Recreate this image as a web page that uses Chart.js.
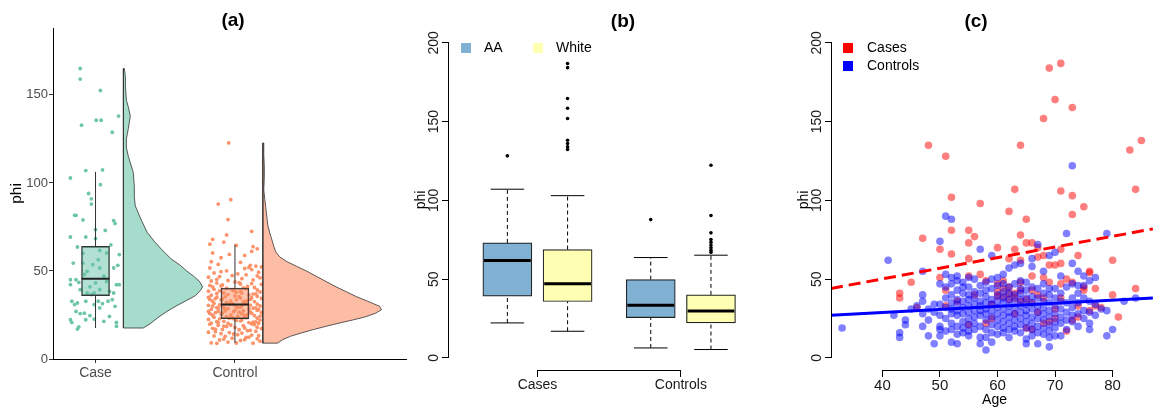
<!DOCTYPE html>
<html>
<head>
<meta charset="utf-8">
<script src="https://cdn.jsdelivr.net/npm/chart.js@4.4.1/dist/chart.umd.min.js"></script>
<style>
  body { margin: 0; background: #fff; }
  #wrap { position: relative; width: 1162px; height: 416px; overflow: hidden; }
  .panel { position: absolute; top: 0; height: 416px; background: #fff; }
  canvas { display: block; }
</style>
</head>
<body>
<div id="wrap">
  <div class="panel" style="left:0;width:417px;z-index:1"><canvas id="chartA" width="417" height="416"></canvas></div>
  <div class="panel" style="left:407px;width:395px;z-index:2"><canvas id="chartB" width="395" height="416"></canvas></div>
  <div class="panel" style="left:790px;width:372px;z-index:3"><canvas id="chartC" width="372" height="416"></canvas></div>
</div>
<script>
// ---------- panel (a): raincloud ----------
const aCats = ['Case', 'Control'];
const aYTicks = [0, 50, 100, 150];
// [lower whisker, q1, median, q3, upper whisker]
const aBoxStats = [[17.6, 36, 45.6, 64, 106.3], [9.1, 22.9, 30.9, 40.3, 65]];
// jitter: [offset from category, phi]
const caseJitter = [[-0.11,165],[-0.11,159],[0.035,152.5],[0.005,135.6],[0.04,135.6],[-0.1,132.8],[0.165,138],[0.12,128.8],
  [-0.18,102.8],[-0.07,107],[0.05,107.4],[0.035,99],[-0.05,94],[-0.03,91],[-0.03,88],[-0.15,81.6],[-0.14,81.6],[-0.09,79],
  [0.13,78.6],[0.14,77],[0,73.5],[0.07,73],[-0.18,69.3],[-0.07,69.3],[0,68.4],[-0.13,63.6],[0.11,64.8],[0.17,59.3],[0.03,61.7],
  [0.08,60.2],[-0.16,54.5],[-0.09,54.5],[-0.02,53.6],[0.16,53.2],[0.13,51.7],[-0.06,49.8],[0.03,51.7],[-0.18,45],[-0.14,45],
  [-0.08,48],[0,43.2],[0.06,47],[0.15,42.2],[0.17,42.2],[-0.18,42.2],[-0.11,39.4],[-0.04,41],[0.1,38.4],[-0.01,37.5],[0.03,39.4],
  [0.13,37.5],[-0.17,32.8],[-0.13,31.8],[-0.07,32.8],[0.02,32.8],[0.12,33.7],[-0.15,30.9],[-0.01,30.9],[0.05,31.4],[0.14,29.9],
  [-0.14,27],[-0.08,26],[-0.04,24.6],[-0.11,25.8],[-0.18,22.3],[-0.17,20.8],[0.06,21.4],[0.15,20.8],[-0.12,18.2],[-0.13,17],
  [0.15,18.6],[0.03,29],[-0.03,36.6],[-0.06,37.5],[0.08,44],[-0.12,43.5],[0.02,56.4],[-0.09,60],[0.1,24.2],[-0.01,22.7],
  [-0.07,22.3],[0.09,32.8]];
const controlJitter = [[-0.17,9.2],[0.04,10.5],[-0.08,11.3],[0.13,9],[-0.02,11.8],[0.18,10.1],[-0.13,8.9],[0.07,11],[-0.05,9.6],
  [0.16,11.5],[-0.11,10.8],[0.01,9.1],
  [0.1,12.4],[-0.15,13.1],[0.05,14.7],[-0.19,15.2],[0.12,13.6],[-0.07,12.9],[0.15,15.8],[-0.01,14.2],[0.08,12.2],[-0.14,15.5],
  [0.17,13.3],[-0.04,15],[0.02,13.8],[-0.1,14.4],
  [0.11,16.3],[-0.16,17.4],[0.06,18.9],[-0.09,16.8],[0.14,19.5],[0,17.9],[-0.12,19.1],[0.09,16.1],[-0.06,18.4],[0.19,17.2],
  [-0.18,19.8],[0.03,16.6],[-0.03,19.3],[0.16,18.1],[-0.14,16.9],[0.07,17.6],[-0.08,18.7],[0.12,19.9],
  [-0.17,20.4],[0.04,21.6],[-0.11,22.8],[0.13,20.9],[-0.02,23.5],[0.18,22.1],[-0.13,21.2],[0.07,23.9],[-0.05,20.2],[0.16,23.2],
  [-0.19,22.5],[0.01,21.9],[0.1,20.7],[-0.15,23.7],[0.05,22.3],[-0.08,21.4],[0.15,21.1],[-0.01,22.9],[0.08,23.4],[-0.12,20.6],
  [0.17,20.3],[-0.04,23.1],
  [0.02,24.3],[-0.1,25.5],[0.11,26.8],[-0.16,24.9],[0.06,27.4],[-0.09,26.1],[0.14,24.6],[0,27.8],[-0.12,27.1],[0.09,25.2],
  [-0.06,24.1],[0.19,26.4],[-0.18,25.8],[0.03,26.6],[-0.03,25],[0.16,27.6],[-0.14,26.3],[0.07,24.7],[-0.07,27.3],[0.12,25.9],
  [-0.19,27],[0.05,25.6],[-0.01,26.9],[0.18,24.4],
  [-0.17,28.2],[0.04,29.5],[-0.11,30.7],[0.13,28.9],[-0.02,31.4],[0.18,30.1],[-0.13,29.2],[0.07,31.8],[-0.05,28.6],[0.16,31.2],
  [-0.19,30.5],[0.01,29.9],[0.1,28.4],[-0.15,31.6],[0.05,30.3],[-0.08,29.6],[0.15,29],[-0.01,30.9],[0.08,31.3],[-0.12,28.7],
  [0.17,28.1],[-0.04,31.1],[0.11,30.6],[-0.07,28.3],[0.02,29.3],[-0.16,30],
  [0.06,32.4],[-0.1,33.5],[0.12,34.8],[-0.16,32.9],[0.03,35.4],[-0.09,34.1],[0.14,32.6],[0,35.8],[-0.13,35.1],[0.09,33.2],
  [-0.06,32.1],[0.19,34.4],[-0.18,33.8],[0.04,34.6],[-0.03,33],[0.16,35.6],[-0.14,34.3],[0.07,32.7],[-0.07,35.3],[0.11,33.9],
  [-0.19,35],[0.01,33.6],
  [-0.17,36.2],[0.05,37.5],[-0.11,38.7],[0.13,36.9],[-0.02,39.4],[0.18,38.1],[-0.13,37.2],[0.08,39.8],[-0.05,36.6],[0.16,39.2],
  [-0.19,38.5],[0.01,37.9],[0.1,36.4],[-0.15,39.6],[0.04,38.3],[-0.08,37.6],[0.15,37],[-0.01,38.9],
  [0.06,40.4],[-0.1,41.5],[0.12,42.8],[-0.16,40.9],[0.03,43.4],[-0.09,42.1],[0.14,40.6],[0,43.8],[-0.13,43.1],[0.09,41.2],
  [-0.06,40.1],[0.19,42.4],[-0.18,41.8],[0.04,42.6],
  [-0.17,44.3],[0.05,45.6],[-0.11,46.8],[0.13,44.9],[-0.02,47.4],[0.18,46.1],[-0.13,45.2],[0.08,47.8],[-0.05,44.6],[0.16,47.2],
  [-0.19,46.5],
  [0.02,48.4],[-0.1,49.6],[0.12,50.8],[-0.15,48.9],[0.07,51.4],[-0.06,50.1],[0.17,49.3],[-0.18,51.7],[0.1,52],
  [0.15,52.8],[-0.12,53.7],[0.04,54.9],[-0.17,55.3],[0.11,53.2],[0.19,52.3],
  [-0.1,57.5],[0.07,58.8],[-0.16,60.2],[0.12,61.1],[-0.04,59.4],
  [0.16,62.6],[0.13,63.8],[-0.18,65.2],[-0.08,66.4],[-0.06,70.5],[-0.16,68],[0.01,64.5],
  [0.12,72.5],[-0.05,79.2],[-0.12,88],[-0.03,90.5],[-0.045,122.7]];
// half violin profiles: phi values and relative density
const caseViolinPhi = [17.6,20,24,27,30,33,36,39,41,44,47,50,53,57,62,67,72,79,87,92,98,106,115,120,125,131,138,143,147,155,160,165];
const caseViolinDens = [0.167,0.225,0.3,0.367,0.442,0.525,0.608,0.65,0.667,0.642,0.592,0.533,0.483,0.4,0.325,0.258,0.2,0.15,
  0.1,0.092,0.092,0.083,0.042,0.025,0.025,0.042,0.058,0.042,0.025,0.017,0.017,0.008];
const controlViolinPhi = [9,11,12.9,14.8,16.7,18.6,20.5,22.3,24,26,28,30,32.8,35.6,38.3,41,44,47,50,52.7,55.4,58,61,64,68,
  71.6,76,81,86,90.5,96,103,109.5,116,122.7];
const controlViolinDens = [0.125,0.167,0.233,0.325,0.425,0.533,0.65,0.767,0.867,0.95,1,0.983,0.883,0.783,0.7,0.617,0.533,0.45,
  0.367,0.283,0.2,0.142,0.108,0.092,0.075,0.058,0.042,0.033,0.025,0.017,0.008,0.0125,0.0125,0.008,0.008];

// ---------- panel (b): boxplots by race ----------
const bGroups = ['Cases', 'Controls'];
const bRaces = ['AA', 'White'];
// order: AA cases, White cases, AA controls, White controls
const bBoxStats = [[22.2, 39.2, 61.8, 73, 107.1], [16.9, 35.8, 47, 68.8, 103], [6.3, 25.6, 33.4, 49.7, 63.7], [5.3, 22.2, 29.8, 40, 65.2]];
const bOutliers = [[128.3], [186.9, 184.3, 164.7, 158.5, 152, 138.2, 136.1, 134, 132.3], [87.8],
  [122.3, 90.4, 79.4, 75.1, 73.4, 71.7, 70, 68.4, 67]];
const bYTicks = [0, 50, 100, 150, 200];

// ---------- panel (c): phi vs age ----------
const cSeries = ['Cases', 'Controls'];
const cXTicks = [40, 50, 60, 70, 80];
const cYTicks = [0, 50, 100, 150, 200];
const casesAge = [71,69,70,73,68,48,64,51,83,85,84,63,71,73,52,57,75,62,73,65,52,55,56,47,64,55,65,66,63,50,60,71,67,68,52,55,
  62,74,80,69,70,64,45,43,43,50,51,55,57,60,62,66,68,71,72,73,76,77,80,84,81,72,73,77,74,55,58,63,67,68,69,70,60,61,65,66,59,
  62,63,64,51,46,53,56,71,75,76,67,58,61,64,59,66,65,60,61,62,63,64,66,68,70,69,74,78,76,75,67,71];
const casesPhi = [187,184,164,159,152,135,135,128,132,138,107,107,106,103,102,98,96,93,91,88,81,81,77,76,78,73,73,73,69,69,70,
  69,70,65,66,63,63,65,62,59,59,62,48,41,38,51,43,52,53,39,45,52,51,47,50,48,55,44,40,44,26,17,24,33,33,21,22,28,29,22,23,31,
  47,39,37,43,34,37,41,48,33,32,36,40,38,43,30,40,49,49,43,25,18,19,42,44,41,38,36,35,38,25,48,26,32,54,45,64,60];
// controls: [age, phi values at that age]
const controlsByAge = [
  [33,[19]],[41,[62]],[42,[27]],[43,[13,16]],[44,[21,24]],[45,[31]],[46,[33]],[47,[20,28,36,40,55]],[48,[14,24,31]],
  [49,[9,29,34]],[50,[14,18,20,27,34,47,74]],[51,[17,25,32,38,45,53,90]],[52,[10,18,22,28,31,35,40,47,51,88]],
  [53,[9,15,20,27,30,34,37,43,49,52]],[54,[16,19,23,28,32,36,41,45,48]],[55,[14,17,21,25,29,33,37,40,45,51]],
  [56,[18,22,26,30,34,38,42,50]],[57,[9,13,20,27,30,33,36,41,46,69]],[58,[5,13,18,24,28,31,35,39,43,48]],
  [59,[10,16,21,26,30,34,37,44,50,65]],[60,[15,20,24,28,32,36,40,46,51]],[61,[16,19,23,27,31,35,38,42,47,53]],
  [62,[13,18,22,26,29,33,37,41,45,57]],[63,[17,20,24,28,32,36,40,47,59]],[64,[16,21,25,29,33,37,41,44,49,60]],
  [65,[9,12,19,23,27,30,34,38,43,48]],[66,[14,18,22,26,31,35,39,45,58,63]],[67,[9,16,20,25,29,33,38,44,72]],
  [68,[15,19,24,28,32,36,41,47,55]],[69,[7,13,17,21,26,30,35,40,44,65]],[70,[14,19,23,28,33,38,44,67]],
  [71,[14,22,26,31,36,41,52]],[72,[18,24,29,35,45,79]],[73,[23,27,32,38,47,60,122]],[74,[20,28,35,41,46,55]],
  [75,[25,30,38,46,52]],[76,[18,22,29,36,49]],[77,[27,34,51]],[78,[31]],[79,[14,30,79]],[80,[18]],[82,[36]],[84,[38]]];
// linear fits phi = intercept + slope * age (cases, controls)
const fitIntercept = [23.1, 20.95];
const fitSlope = [0.676, 0.196];
const fitAgeRange = [31.07, 87.0];

// ---------- helpers ----------
Chart.defaults.font.family = '"Liberation Sans", Arial, Helvetica, sans-serif';
Chart.defaults.animation = false;
Chart.defaults.events = [];
Chart.defaults.plugins.legend.display = false;
Chart.defaults.plugins.tooltip.enabled = false;

const VIOLIN_NUDGE = 0.2;
const VIOLIN_SCALE = 0.851;

function whiskerPoints(pos, stats) {
  const pts = [];
  pos.forEach((p, i) => {
    const s = stats[i];
    pts.push({x: p, y: s[0]}, {x: p, y: s[1]}, {x: p, y: null},
             {x: p, y: s[3]}, {x: p, y: s[4]}, {x: p, y: null});
  });
  return pts;
}
function segPoints(pos, vals, half) {
  const pts = [];
  pos.forEach((p, i) => {
    pts.push({x: p - half, y: vals[i]}, {x: p + half, y: vals[i]}, {x: p, y: null});
  });
  return pts;
}
function violinPoints(base, ys, dens) {
  const pts = [{x: base, y: ys[0]}];
  ys.forEach((y, i) => pts.push({x: base + dens[i] * VIOLIN_SCALE, y: y}));
  pts.push({x: base, y: ys[ys.length - 1]});
  pts.push({x: base, y: ys[0]});
  return pts;
}
function fixedTicks(list) {
  return s => { s.ticks = list.map(v => ({value: v})); };
}
function align(v) { return Math.round(v - 0.5) + 0.5; }

// axis line spanning only first..last tick (R style)
const rAxes = {
  id: 'rAxes',
  afterDraw(chart, args, opts) {
    const {ctx, chartArea, scales} = chart;
    ctx.save();
    ctx.strokeStyle = '#000';
    ctx.lineWidth = 1;
    (opts.axes || []).forEach(id => {
      const s = scales[id];
      const a = s.getPixelForValue(s.ticks[0].value);
      const b = s.getPixelForValue(s.ticks[s.ticks.length - 1].value);
      ctx.beginPath();
      if (s.isHorizontal()) {
        const y = align(chartArea.bottom);
        ctx.moveTo(align(a) - 0.5, y); ctx.lineTo(align(b) + 0.5, y);
      } else {
        const x = align(chartArea.left);
        ctx.moveTo(x, align(a) + 0.5); ctx.lineTo(x, align(b) - 0.5);
      }
      ctx.stroke();
    });
    ctx.restore();
  }
};
// square-key legend drawn inside the plot area
const boxLegend = {
  id: 'boxLegend',
  afterDraw(chart, args, opts) {
    if (!opts.labels) return;
    const {ctx, chartArea} = chart;
    ctx.save();
    ctx.font = '14px "Liberation Sans", Arial, sans-serif';
    ctx.textBaseline = 'middle';
    opts.labels.forEach((label, i) => {
      const x = chartArea.left + opts.dx + i * opts.stepX;
      const y = chartArea.top + opts.dy + i * opts.stepY;
      ctx.fillStyle = opts.colors[i];
      ctx.fillRect(x, y, 10, 10);
      ctx.fillStyle = '#000';
      ctx.fillText(label, x + opts.textGap, y + 5.5);
    });
    ctx.restore();
  }
};

// ---------- chart (a) ----------
const aPos = aCats.map((c, i) => i + 1);
new Chart(document.getElementById('chartA'), {
  type: 'scatter',
  data: {
    datasets: [
      { data: caseJitter.map(p => ({x: 1 + p[0], y: p[1]})), backgroundColor: 'rgba(102,194,165,0.95)',
        pointRadius: 1.9, pointBorderWidth: 0, order: 6 },
      { data: controlJitter.map(p => ({x: 2 + p[0], y: p[1]})), backgroundColor: 'rgba(252,141,98,0.95)',
        pointRadius: 1.9, pointBorderWidth: 0, order: 6 },
      { type: 'line', data: violinPoints(1 + VIOLIN_NUDGE, caseViolinPhi, caseViolinDens),
        backgroundColor: 'rgba(102,194,165,0.58)', borderColor: '#333', borderWidth: 0.8, fill: 'shape',
        pointRadius: 0, tension: 0, order: 5 },
      { type: 'line', data: violinPoints(2 + VIOLIN_NUDGE, controlViolinPhi, controlViolinDens),
        backgroundColor: 'rgba(252,141,98,0.58)', borderColor: '#333', borderWidth: 0.8, fill: 'shape',
        pointRadius: 0, tension: 0, order: 5 },
      { type: 'bar', data: aBoxStats.map((s, i) => ({x: aPos[i], y: [s[1], s[3]]})),
        backgroundColor: ['rgba(102,194,165,0.5)', 'rgba(252,141,98,0.5)'], borderColor: '#333',
        borderWidth: 1, borderSkipped: false, barThickness: 28, order: 4 },
      { type: 'line', data: whiskerPoints(aPos, aBoxStats), borderColor: '#333', borderWidth: 1,
        pointRadius: 0, spanGaps: false, order: 3 },
      { type: 'line', data: segPoints(aPos, aBoxStats.map(s => s[2]), 0.1), borderColor: '#222', borderWidth: 2,
        pointRadius: 0, spanGaps: false, order: 2 }
    ]
  },
  options: {
    responsive: false,
    plugins: {
      title: { display: true, text: '(a)', fullSize: false, color: '#000',
        font: { size: 19, weight: 'bold', lineHeight: 1 }, padding: { top: 11.5, bottom: -2.5 } }
    },
    scales: {
      x: {
        type: 'linear', min: 0.695, max: 3.277, offset: false,
        afterBuildTicks: fixedTicks(aPos),
        afterFit: s => { s.height = 57; },
        ticks: { callback: (v, i) => aCats[i], color: '#4D4D4D', font: { size: 14 }, padding: 2,
          maxRotation: 0, autoSkip: false },
        grid: { offset: false, drawOnChartArea: false, tickLength: 4, tickColor: '#333' },
        border: { color: '#000', width: 1 }
      },
      y: {
        type: 'linear', min: 0, max: 188,
        afterBuildTicks: fixedTicks(aYTicks),
        afterFit: s => { s.width = 53; },
        ticks: { color: '#4D4D4D', font: { size: 13 }, padding: 1 },
        grid: { drawOnChartArea: false, tickLength: 4, tickColor: '#333' },
        border: { color: '#000', width: 1 },
        title: { display: true, text: 'phi', color: '#000', font: { size: 15.5 }, padding: { top: 7.7, bottom: 0 } }
      }
    }
  }
});

// ---------- chart (b) ----------
const B_OFFSET = 0.21;
const bPos = [1 - B_OFFSET, 1 + B_OFFSET, 2 - B_OFFSET, 2 + B_OFFSET];
const bFill = ['#80B1D3', '#FFFFB3', '#80B1D3', '#FFFFB3'];
const bOutlierPts = [];
bOutliers.forEach((list, i) => list.forEach(v => bOutlierPts.push({x: bPos[i], y: v})));
const rYAxis = (ticks) => ({
  type: 'linear', min: -7.7, max: 208.2,
  afterBuildTicks: fixedTicks(ticks),
  afterFit: s => { s.width = 41; },
  ticks: { minRotation: 90, maxRotation: 90, crossAlign: 'center', padding: -4, color: '#1a1a1a', font: { size: 14 } },
  grid: { drawOnChartArea: false, tickLength: 6, tickColor: '#000' },
  border: { display: false },
  title: { display: true, text: 'phi', color: '#000', font: { size: 14 }, padding: { top: 5.6, bottom: 0 } }
});
new Chart(document.getElementById('chartB'), {
  type: 'scatter',
  data: {
    datasets: [
      { type: 'bar', data: bBoxStats.map((s, i) => ({x: bPos[i], y: [s[1], s[3]]})), backgroundColor: bFill,
        borderColor: '#222', borderWidth: 1.2, borderSkipped: false, barThickness: 49, order: 4 },
      { type: 'line', data: whiskerPoints(bPos, bBoxStats), borderColor: '#000', borderWidth: 1, borderDash: [4, 3],
        pointRadius: 0, spanGaps: false, order: 3 },
      { type: 'line', data: segPoints(bPos, bBoxStats.map(s => s[0]), 0.117).concat(segPoints(bPos, bBoxStats.map(s => s[4]), 0.117)),
        borderColor: '#000', borderWidth: 1, pointRadius: 0, spanGaps: false, order: 3 },
      { type: 'line', data: segPoints(bPos, bBoxStats.map(s => s[2]), 0.163), borderColor: '#000', borderWidth: 3,
        pointRadius: 0, spanGaps: false, order: 2 },
      { data: bOutlierPts, backgroundColor: '#000', pointRadius: 1.8, pointBorderWidth: 0, order: 1 }
    ]
  },
  options: {
    responsive: false,
    plugins: {
      title: { display: true, text: '(b)', fullSize: false, color: '#000',
        font: { size: 19, weight: 'bold', lineHeight: 1 }, padding: { top: 12.5, bottom: -1.5 } },
      rAxes: { axes: ['x', 'y'] },
      boxLegend: { labels: bRaces, colors: ['#80B1D3', '#FFFFB3'], dx: 13, dy: 13, stepX: 72, stepY: 0, textGap: 23 }
    },
    scales: {
      x: {
        type: 'linear', min: 0.376, max: 2.817, offset: false,
        afterBuildTicks: fixedTicks([1, 2]),
        afterFit: s => { s.height = 46; },
        ticks: { callback: (v, i) => bGroups[i], color: '#1a1a1a', font: { size: 14 }, padding: 0,
          maxRotation: 0, autoSkip: false },
        grid: { offset: false, drawOnChartArea: false, tickLength: 7, tickColor: '#000' },
        border: { display: false }
      },
      y: rYAxis(bYTicks)
    }
  },
  plugins: [rAxes, boxLegend]
});

// ---------- chart (c) ----------
const controlPts = [];
controlsByAge.forEach(([age, vals]) => vals.forEach(v => controlPts.push({x: age, y: v})));
const fitLine = i => fitAgeRange.map(a => ({x: a, y: fitIntercept[i] + fitSlope[i] * a}));
new Chart(document.getElementById('chartC'), {
  type: 'scatter',
  data: {
    datasets: [
      { label: cSeries[0], data: casesAge.map((a, i) => ({x: a, y: casesPhi[i]})), backgroundColor: 'rgba(255,0,0,0.5)',
        pointRadius: 3.8, pointBorderWidth: 0, order: 3 },
      { label: cSeries[1], data: controlPts, backgroundColor: 'rgba(0,0,255,0.5)',
        pointRadius: 3.8, pointBorderWidth: 0, order: 2 },
      { type: 'line', data: fitLine(0), borderColor: '#FF0000', borderWidth: 3, borderDash: [12, 6],
        pointRadius: 0, order: 1 },
      { type: 'line', data: fitLine(1), borderColor: '#0000FF', borderWidth: 3, pointRadius: 0, order: 1 }
    ]
  },
  options: {
    responsive: false,
    plugins: {
      title: { display: true, text: '(c)', fullSize: true, color: '#000',
        font: { size: 19, weight: 'bold', lineHeight: 1 }, padding: { top: 12.5, bottom: -1.5 } },
      rAxes: { axes: ['x', 'y'] },
      boxLegend: { labels: cSeries, colors: ['#FF0000', '#0000FF'], dx: 12, dy: 13, stepX: 0, stepY: 18, textGap: 24 }
    },
    scales: {
      x: {
        type: 'linear', min: 31.07, max: 87.89, offset: false,
        afterBuildTicks: fixedTicks(cXTicks),
        afterFit: s => { s.height = 46; },
        ticks: { color: '#1a1a1a', font: { size: 15 }, padding: 0, maxRotation: 0, autoSkip: false },
        grid: { offset: false, drawOnChartArea: false, tickLength: 7, tickColor: '#000' },
        border: { display: false },
        title: { display: true, text: 'Age', color: '#000', font: { size: 14 }, padding: { top: 0, bottom: 7.6 } }
      },
      y: rYAxis(cYTicks)
    }
  }
  ,
  plugins: [rAxes, boxLegend]
});
</script>
</body>
</html>
